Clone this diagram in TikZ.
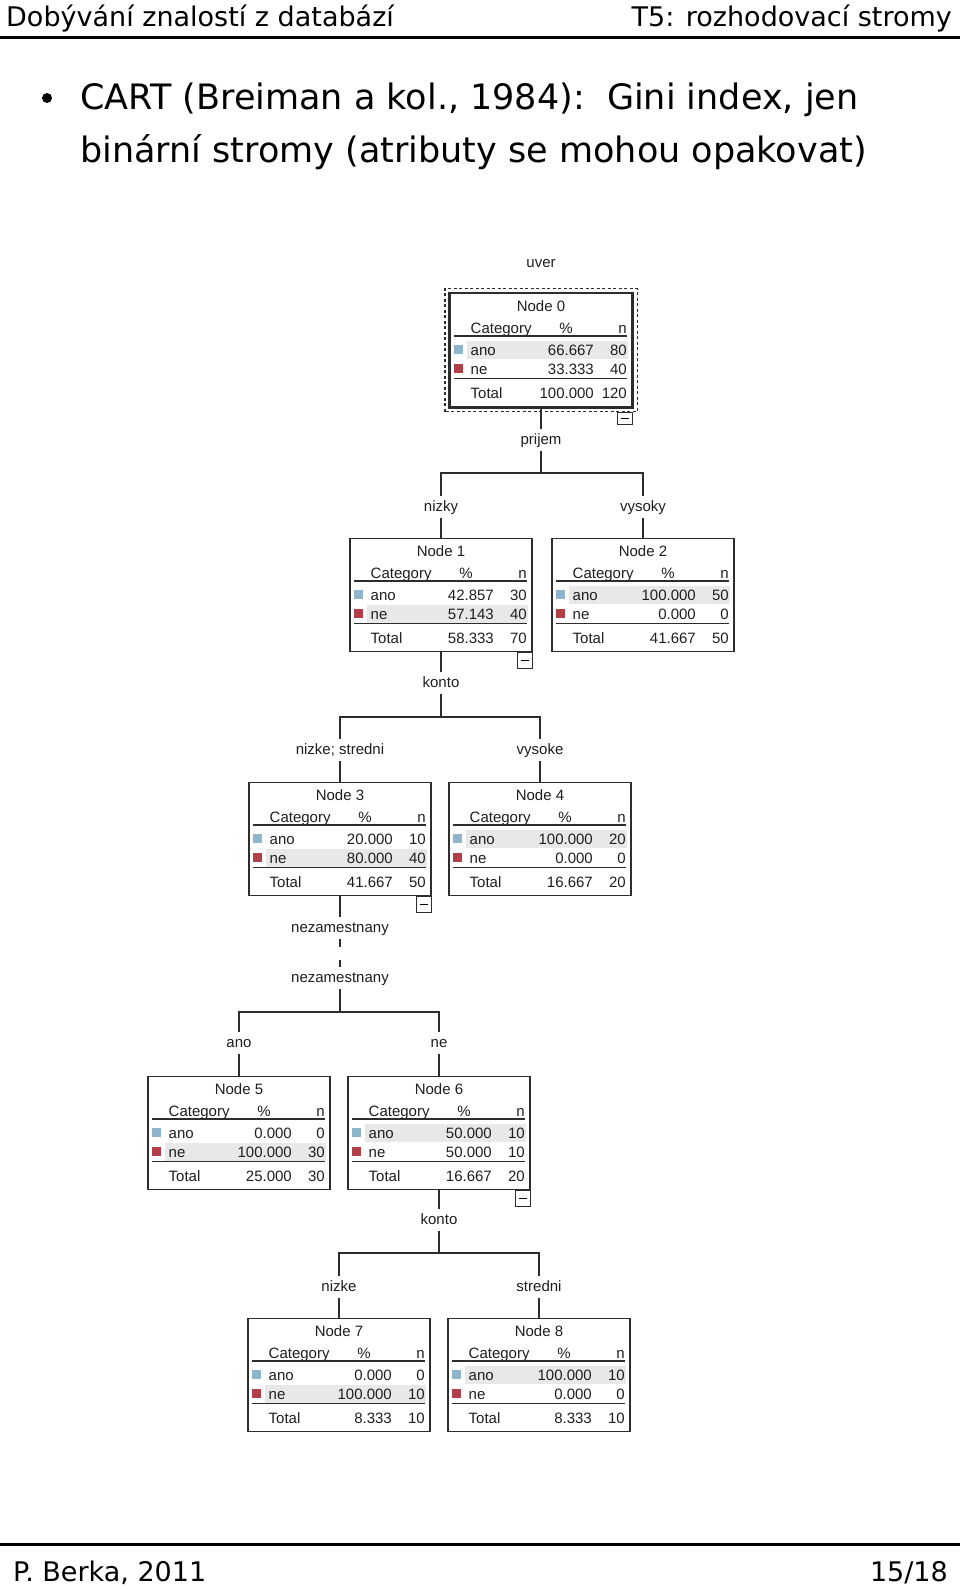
\documentclass[tikz,border=0pt]{standalone}
\usepackage{fontspec}
\setmainfont{Liberation Sans}
\newfontfamily\slidefont{DejaVu Sans}
\usetikzlibrary{calc}
\definecolor{cartblue}{RGB}{143,181,205}
\definecolor{cartred}{RGB}{178,62,72}
\definecolor{cartshade}{RGB}{232,232,232}
\definecolor{cartline}{RGB}{45,45,45}
\definecolor{carttext}{RGB}{30,30,30}
\tikzset{
  statbox/.style={draw=cartline,line width=1.2pt,minimum width=182pt,minimum height=113pt,anchor=north,inner sep=0pt},
  celltext/.style={font=\fontsize{15}{15}\selectfont,text=carttext,inner sep=0pt},
  rowrule/.style={draw=cartline,line width=1.3pt},
  splitlbl/.style={font=\fontsize{15}{15}\selectfont,text=carttext,inner sep=4pt,text height=11pt,text depth=3pt},
  branch/.style={draw=cartline,line width=1.2pt},
  togglebox/.style={draw=cartline,line width=1pt,minimum width=15pt,minimum height=16pt,anchor=north east,inner sep=0pt},
  slidetext/.style={font=\slidefont,inner sep=0pt},
}

\begin{document}
\begin{tikzpicture}[x=1pt,y=-1pt]
  \useasboundingbox (0,0) rectangle (960,1589);

  % slide header and footer
  \node[slidetext,anchor=base west,font=\slidefont\fontsize{27}{27}\selectfont] (hdleft) at (6,27) {Dobývání znalostí z databází};
  \node[slidetext,anchor=base east,font=\slidefont\fontsize{27}{27}\selectfont] (hdright) at (952,27) {T5: rozhodovací stromy};
  \draw[line width=3pt] (0,38) -- (960,38);
  \fill (47,98) circle (5);
  \node[slidetext,anchor=base west,font=\slidefont\fontsize{35}{35}\selectfont] (line1) at (80,110) {CART (Breiman a kol., 1984):\ \ Gini index, jen};
  \node[slidetext,anchor=base west,font=\slidefont\fontsize{35}{35}\selectfont] (line2) at (80,163) {binární stromy (atributy se mohou opakovat)};
  \draw[line width=3pt] (0,1544) -- (960,1544);
  \node[slidetext,anchor=base west,font=\slidefont\fontsize{27}{27}\selectfont] (ftleft) at (13,1581) {P. Berka, 2011};
  \node[slidetext,anchor=base east,font=\slidefont\fontsize{27}{27}\selectfont] (ftright) at (948,1581) {15/18};

  % tree nodes
  \foreach \nm/\x/\y/\k/\ap/\an/\np/\nn/\tp/\tn/\sh in {
      n0/541/293/0/66.667/80/33.333/40/100.000/120/1,
      n1/441/538/1/42.857/30/57.143/40/58.333/70/2,
      n2/643/538/2/100.000/50/0.000/0/41.667/50/1,
      n3/340/782/3/20.000/10/80.000/40/41.667/50/2,
      n4/540/782/4/100.000/20/0.000/0/16.667/20/1,
      n5/239/1076/5/0.000/0/100.000/30/25.000/30/2,
      n6/439/1076/6/50.000/10/50.000/10/16.667/20/1,
      n7/339/1318/7/0.000/0/100.000/10/8.333/10/2,
      n8/539/1318/8/100.000/10/0.000/0/8.333/10/1}
  {
    \fill[cartshade] (\x-74,\y+29.5+\sh*18.5) rectangle (\x+87,\y+47.5+\sh*18.5);
    \node[statbox] (\nm) at (\x,\y) {};
    \node[celltext,anchor=base] (\nm-t) at (\x,\y+18) {Node \k};
    \node[celltext,anchor=base west] (\nm-c) at (\x-70.5,\y+40.5) {Category};
    \node[celltext,anchor=base] (\nm-p) at (\x+25,\y+40.5) {\%};
    \node[celltext,anchor=base east] (\nm-n) at (\x+86,\y+40.5) {n};
    \draw[rowrule] (\x-87,\y+43) -- (\x+86,\y+43);
    \fill[cartblue] (\x-87,\y+52) rectangle ++(9,9);
    \node[celltext,anchor=base west] (\nm-a) at (\x-70.5,\y+62.5) {ano};
    \node[celltext,anchor=base east] (\nm-ap) at (\x+53,\y+62.5) {\ap};
    \node[celltext,anchor=base east] (\nm-an) at (\x+86,\y+62.5) {\an};
    \fill[cartred] (\x-87,\y+71) rectangle ++(9,9);
    \node[celltext,anchor=base west] (\nm-e) at (\x-70.5,\y+81.5) {ne};
    \node[celltext,anchor=base east] (\nm-ep) at (\x+53,\y+81.5) {\np};
    \node[celltext,anchor=base east] (\nm-en) at (\x+86,\y+81.5) {\nn};
    \draw[rowrule] (\x-87,\y+85.5) -- (\x+86,\y+85.5);
    \node[celltext,anchor=base west] (\nm-s) at (\x-70.5,\y+105) {Total};
    \node[celltext,anchor=base east] (\nm-sp) at (\x+53,\y+105) {\tp};
    \node[celltext,anchor=base east] (\nm-sn) at (\x+86,\y+105) {\tn};
  }
  % root is selected
  \draw[statbox,line width=2.6pt,minimum width=0pt,minimum height=0pt] (n0.south west) rectangle (n0.north east);
  \draw[cartline,line width=1.2pt,dash pattern=on 3pt off 2.5pt] ($(n0.south west)+(-4.5,4.5)$) rectangle ($(n0.north east)+(4.5,-4.5)$);
  \node[togglebox,minimum height=12pt] (n0-x) at ($(n0.south east)+(0,5)$) {\rule{8pt}{1.2pt}};
  \foreach \nm in {n1,n3,n6}
    \node[togglebox] (\nm-x) at (\nm.south east) {\rule{8pt}{1.2pt}};

  % split labels
  \node[splitlbl] (uver) at (541,263) {uver};
  \node[splitlbl] (prijem) at (541,440) {prijem};
  \node[splitlbl] (nizky) at (441,507) {nizky};
  \node[splitlbl] (vysoky) at (643,507) {vysoky};
  \node[splitlbl] (konto1) at (441,683) {konto};
  \node[splitlbl] (nizkestr) at (340,750) {nizke; stredni};
  \node[splitlbl] (vysoke) at (540,750) {vysoke};
  \node[splitlbl] (nezam1) at (340,928) {nezamestnany};
  \node[splitlbl] (nezam2) at (340,978) {nezamestnany};
  \node[splitlbl] (ano) at (239,1043) {ano};
  \node[splitlbl] (ne) at (439,1043) {ne};
  \node[splitlbl] (konto2) at (439,1220) {konto};
  \node[splitlbl] (nizke) at (339,1287) {nizke};
  \node[splitlbl] (stredni) at (539,1287) {stredni};
  \coordinate (b0) at (541,473);
  \coordinate (b1) at (441,717);
  \coordinate (b3) at (340,1012);
  \coordinate (b6) at (439,1253);

  % branches
  \draw[branch] (n0) -- (prijem) -- (b0) -| (nizky) -- (n1);
  \draw[branch] (b0) -| (vysoky) -- (n2);
  \draw[branch] (n1) -- (konto1) -- (b1) -| (nizkestr) -- (n3);
  \draw[branch] (b1) -| (vysoke) -- (n4);
  \draw[branch] (n3) -- (nezam1);
  \draw[branch,dash pattern=on 8pt off 13pt] (nezam1) -- (nezam2);
  \draw[branch] (nezam2) -- (b3) -| (ano) -- (n5);
  \draw[branch] (b3) -| (ne) -- (n6);
  \draw[branch] (n6) -- (konto2) -- (b6) -| (nizke) -- (n7);
  \draw[branch] (b6) -| (stredni) -- (n8);
\end{tikzpicture}
\end{document}
